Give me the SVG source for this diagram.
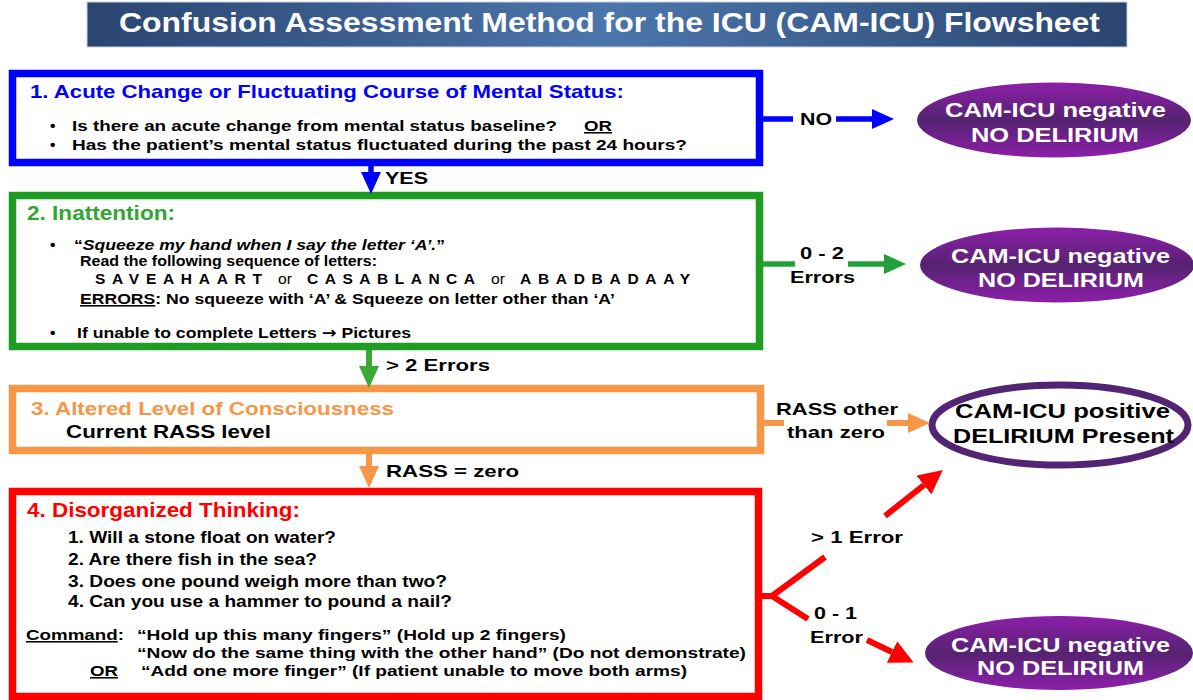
<svg xmlns="http://www.w3.org/2000/svg" width="1193" height="700" viewBox="0 0 1193 700">
<defs>
<linearGradient id="titleGrad" x1="0" y1="0" x2="1" y2="0">
<stop offset="0" stop-color="#2a4570"/>
<stop offset="0.5" stop-color="#4b76ab"/>
<stop offset="1" stop-color="#2a4570"/>
</linearGradient>
<linearGradient id="purpleGrad" x1="0" y1="0" x2="0" y2="1">
<stop offset="0" stop-color="#8d1faa"/>
<stop offset="0.5" stop-color="#552370"/>
<stop offset="1" stop-color="#8d1faa"/>
</linearGradient>
<marker id="hBlue" markerUnits="userSpaceOnUse" markerWidth="22" markerHeight="20" refX="0" refY="10" orient="auto"><path d="M0,0 L22,10 L0,20 z" fill="#0000ff"/></marker>
<marker id="hGreen" markerUnits="userSpaceOnUse" markerWidth="22" markerHeight="20" refX="0" refY="10" orient="auto"><path d="M0,0 L22,10 L0,20 z" fill="#21a03c"/></marker>
<marker id="hGreen2" markerUnits="userSpaceOnUse" markerWidth="22" markerHeight="20" refX="0" refY="10" orient="auto"><path d="M0,0 L22,10 L0,20 z" fill="#3aa935"/></marker>
<marker id="hOrange" markerUnits="userSpaceOnUse" markerWidth="22" markerHeight="20" refX="0" refY="10" orient="auto"><path d="M0,0 L22,10 L0,20 z" fill="#f79646"/></marker>
<marker id="hRed" markerUnits="userSpaceOnUse" markerWidth="24" markerHeight="24" refX="0" refY="12" orient="auto"><path d="M0,0 L24,12 L0,24 z" fill="#ff0000"/></marker>
<style>
text { font-family: "Liberation Sans", Arial, sans-serif; font-weight: bold; fill: #000; }
.box { fill: #fff; stroke-width: 7.5; }
.b1 { stroke: #0000ff; }
.b2 { stroke: #1e9c24; }
.b3 { stroke: #f79646; }
.b4 { stroke: #ff0000; }
.neg { fill: url(#purpleGrad); }
.pos { fill: #fff; stroke: #512574; stroke-width: 7; }
.wt { fill: #fff; font-size: 21px; }
.bt { fill: #000; font-size: 21px; }
.lbl { font-size: 17px; }
.body { font-size: 15.5px; }
.q { font-size: 16.5px; }
.nb { font-size: 15.5px; }
.reg { font-weight: normal; }
.ul { text-decoration: underline; }
.arr { font-family: "DejaVu Sans", sans-serif; }
.cb { fill: none; stroke: #0000ff; stroke-width: 5.5; }
.cg { fill: none; stroke: #21a03c; stroke-width: 5.5; }
.cg2 { fill: none; stroke: #3aa935; stroke-width: 6; }
.co { fill: none; stroke: #f79646; stroke-width: 6; }
.cr { fill: none; stroke: #ff0000; stroke-width: 6; }
</style>
</defs>

<g id="title">
<rect x="87" y="2" width="1040" height="45" fill="url(#titleGrad)" stroke="#c9d3e3" stroke-width="1"/>
<text x="119" y="32" font-size="27" style="fill:#fff" textLength="981" lengthAdjust="spacingAndGlyphs">Confusion Assessment Method for the ICU (CAM-ICU) Flowsheet</text>
</g>

<g id="box1">
<rect class="box b1" x="12.5" y="73.5" width="747" height="89"/>
<text x="30" y="98" font-size="19" style="fill:#0000ff" textLength="594" lengthAdjust="spacingAndGlyphs">1. Acute Change or Fluctuating Course of Mental Status:</text>
<text x="50" y="131" class="body">•</text>
<text x="72" y="131" class="body" textLength="485" lengthAdjust="spacingAndGlyphs">Is there an acute change from mental status baseline?</text>
<text x="584" y="131" class="body ul" textLength="28" lengthAdjust="spacingAndGlyphs">OR</text>
<text x="50" y="150" class="body">•</text>
<text x="72" y="150" class="body" textLength="615" lengthAdjust="spacingAndGlyphs">Has the patient’s mental status fluctuated during the past 24 hours?</text>
</g>

<g id="box2">
<rect class="box b2" x="12.5" y="195.5" width="747" height="151"/>
<text x="27" y="220" font-size="21" style="fill:#33a532" textLength="148" lengthAdjust="spacingAndGlyphs">2. Inattention:</text>
<text x="50" y="250" class="nb">•</text>
<text x="74" y="250" class="nb" textLength="371" lengthAdjust="spacingAndGlyphs">“<tspan font-style="italic">Squeeze my hand when I say the letter ‘A’.</tspan>”</text>
<text x="80" y="266" class="nb" textLength="297" lengthAdjust="spacingAndGlyphs">Read the following sequence of letters:</text>
<text x="95" y="284" class="nb" textLength="167" lengthAdjust="spacing">SAVEAHAART</text>
<text x="278" y="284" class="nb reg" textLength="14" lengthAdjust="spacingAndGlyphs">or</text>
<text x="307" y="284" class="nb" textLength="168" lengthAdjust="spacing">CASABLANCA</text>
<text x="491" y="284" class="nb reg" textLength="14" lengthAdjust="spacingAndGlyphs">or</text>
<text x="520" y="284" class="nb" textLength="170" lengthAdjust="spacing">ABADBADAAY</text>
<text x="80" y="304" class="nb" textLength="535" lengthAdjust="spacingAndGlyphs"><tspan class="ul">ERRORS</tspan>: No squeeze with ‘A’ &amp; Squeeze on letter other than ‘A’</text>
<text x="50" y="338" class="nb">•</text>
<text x="77" y="338" class="nb" textLength="334" lengthAdjust="spacingAndGlyphs">If unable to complete Letters <tspan class="arr">→</tspan> Pictures</text>
</g>

<g id="box3">
<rect class="box b3" x="12.5" y="388.5" width="748" height="62"/>
<text x="31" y="415" font-size="18" style="fill:#f79646" textLength="363" lengthAdjust="spacingAndGlyphs">3. Altered Level of Consciousness</text>
<text x="66" y="438" font-size="18" textLength="205" lengthAdjust="spacingAndGlyphs">Current RASS level</text>
</g>

<g id="box4">
<rect class="box b4" x="12.5" y="491.5" width="746" height="205"/>
<text x="27" y="517" font-size="20.5" style="fill:#ff0000" textLength="273" lengthAdjust="spacingAndGlyphs">4. Disorganized Thinking:</text>
<text x="68" y="543" class="q" textLength="268" lengthAdjust="spacingAndGlyphs">1. Will a stone float on water?</text>
<text x="68" y="565" class="q" textLength="249" lengthAdjust="spacingAndGlyphs">2. Are there fish in the sea?</text>
<text x="68" y="587" class="q" textLength="379" lengthAdjust="spacingAndGlyphs">3. Does one pound weigh more than two?</text>
<text x="68" y="607" class="q" textLength="384" lengthAdjust="spacingAndGlyphs">4. Can you use a hammer to pound a nail?</text>
<text x="26" y="640" class="nb" textLength="98" lengthAdjust="spacingAndGlyphs"><tspan class="ul">Command</tspan>:</text>
<text x="137" y="640" class="nb" textLength="429" lengthAdjust="spacingAndGlyphs">“Hold up this many fingers” (Hold up 2 fingers)</text>
<text x="137" y="658" class="nb" textLength="609" lengthAdjust="spacingAndGlyphs">“Now do the same thing with the other hand” (Do not demonstrate)</text>
<text x="90" y="676" class="nb ul" textLength="28" lengthAdjust="spacingAndGlyphs">OR</text>
<text x="141" y="676" class="nb" textLength="546" lengthAdjust="spacingAndGlyphs">“Add one more finger” (If patient unable to move both arms)</text>
</g>

<g id="neg1">
<ellipse class="neg" cx="1054" cy="120" rx="137" ry="37.5"/>
<text x="945" y="117" class="wt" style="fill:#fff" textLength="221" lengthAdjust="spacingAndGlyphs">CAM-ICU negative</text>
<text x="971" y="142" class="wt" style="fill:#fff" textLength="168" lengthAdjust="spacingAndGlyphs">NO DELIRIUM</text>
</g>

<g id="neg2">
<ellipse class="neg" cx="1057" cy="265" rx="137" ry="37.5"/>
<text x="951" y="263" class="wt" style="fill:#fff" textLength="219" lengthAdjust="spacingAndGlyphs">CAM-ICU negative</text>
<text x="978" y="287" class="wt" style="fill:#fff" textLength="166" lengthAdjust="spacingAndGlyphs">NO DELIRIUM</text>
</g>

<g id="pos">
<ellipse class="pos" cx="1060" cy="425" rx="128" ry="40"/>
<text x="955" y="418" class="bt" textLength="215" lengthAdjust="spacingAndGlyphs">CAM-ICU positive</text>
<text x="953" y="443" class="bt" textLength="221" lengthAdjust="spacingAndGlyphs">DELIRIUM Present</text>
</g>

<g id="neg3">
<ellipse class="neg" cx="1059" cy="653" rx="134" ry="37"/>
<text x="951" y="652" class="wt" style="fill:#fff" textLength="219" lengthAdjust="spacingAndGlyphs">CAM-ICU negative</text>
<text x="977" y="675" class="wt" style="fill:#fff" textLength="167" lengthAdjust="spacingAndGlyphs">NO DELIRIUM</text>
</g>

<g id="connectors">
<line class="cb" x1="763" y1="119" x2="793" y2="119"/>
<line class="cb" x1="836" y1="119" x2="872" y2="119" marker-end="url(#hBlue)"/>
<text x="800" y="125" class="lbl" textLength="32" lengthAdjust="spacingAndGlyphs">NO</text>
<line class="cb" x1="371" y1="166" x2="371" y2="172" marker-end="url(#hBlue)"/>
<text x="385" y="184" class="lbl" textLength="43" lengthAdjust="spacingAndGlyphs">YES</text>

<line class="cg" x1="763" y1="264" x2="795" y2="264"/>
<line class="cg" x1="848" y1="264" x2="884" y2="264" marker-end="url(#hGreen)"/>
<text x="800" y="259" class="lbl" textLength="44" lengthAdjust="spacingAndGlyphs">0 - 2</text>
<text x="790" y="283" class="lbl" textLength="65" lengthAdjust="spacingAndGlyphs">Errors</text>
<line class="cg2" x1="369" y1="350" x2="369" y2="366" marker-end="url(#hGreen2)"/>
<text x="386" y="371" class="lbl" textLength="104" lengthAdjust="spacingAndGlyphs">&gt; 2 Errors</text>

<line class="co" x1="764" y1="423" x2="784" y2="423"/>
<line class="co" x1="887" y1="423" x2="908" y2="423" marker-end="url(#hOrange)"/>
<text x="776" y="415" class="lbl" textLength="122" lengthAdjust="spacingAndGlyphs">RASS other</text>
<text x="787" y="438" class="lbl" textLength="98" lengthAdjust="spacingAndGlyphs">than zero</text>
<line class="co" x1="369" y1="454" x2="369" y2="466" marker-end="url(#hOrange)"/>
<text x="386" y="477" class="lbl" textLength="133" lengthAdjust="spacingAndGlyphs">RASS = zero</text>

<polyline class="cr" points="762,596 772,596 825,557"/>
<line class="cr" x1="772" y1="596" x2="808" y2="619"/>
<line class="cr" x1="885" y1="516" x2="924" y2="485" marker-end="url(#hRed)"/>
<line class="cr" x1="867" y1="640" x2="892" y2="652" marker-end="url(#hRed)"/>
<text x="811" y="543" class="lbl" textLength="92" lengthAdjust="spacingAndGlyphs">&gt; 1 Error</text>
<text x="814" y="619" class="lbl" textLength="43" lengthAdjust="spacingAndGlyphs">0 - 1</text>
<text x="810" y="643" class="lbl" textLength="53" lengthAdjust="spacingAndGlyphs">Error</text>
</g>
</svg>
